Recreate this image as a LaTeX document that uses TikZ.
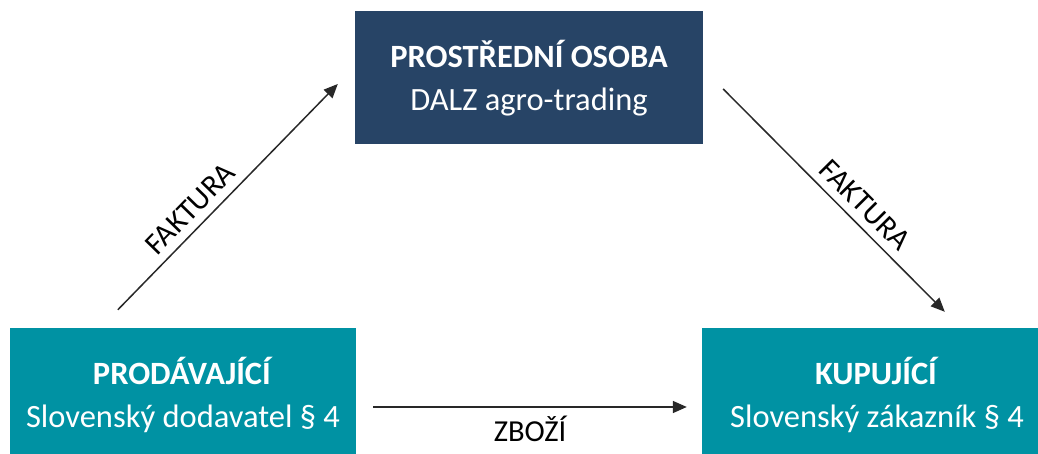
\documentclass[tikz,border=0pt]{standalone}
\usepackage{fontspec}
\setmainfont{Carlito}
\usepackage{xcolor}
\usetikzlibrary{arrows.meta}
\definecolor{navy}{RGB}{39,68,102}
\definecolor{teal}{RGB}{0,146,163}
\definecolor{arrowgray}{RGB}{40,40,40}

\begin{document}
\begin{tikzpicture}[
                x=1pt, y=1pt,
                party/.style={fill=teal, text=white, align=center, minimum width=346pt, minimum height=134pt, inner sep=0pt,
                    font=\fontsize{32.5}{42.5}\selectfont},
                middle/.style={party, fill=navy, minimum width=348pt, minimum height=133pt},
                flow/.style={draw=arrowgray, line width=1.5pt, -{Triangle[length=14pt,width=12pt]}},
                tag/.style={font=\fontsize{30.5}{33}\selectfont, inner sep=0pt},
                >=Stealth
            ]

                \useasboundingbox (0,0) rectangle (1038,454);

                \node[middle] (osoba) at (529,376) {\textbf{PROSTŘEDNÍ OSOBA}\\DALZ agro-trading};
                \node[party] (prodavajici) at (183,59) {\textbf{PRODÁVAJÍCÍ}\\Slovenský dodavatel § 4};
                \node[party, minimum width=350pt] (kupujici) at (877,59) {\textbf{KUPUJÍCÍ}\\Slovenský zákazník § 4};

                \draw[flow] ([shift={(108,18)}]prodavajici.north west) -- node[tag, pos=0.39, sloped, above=8pt] {FAKTURA} ([shift={(-17,-6)}]osoba.west);
                \draw[flow] ([shift={(20,-11)}]osoba.east) -- node[tag, pos=0.58, sloped, above=8pt] {FAKTURA} ([shift={(243,16)}]kupujici.north west);
                \draw[flow] ([shift={(17,-12)}]prodavajici.east) -- node[tag, below=8pt] {ZBOŽÍ} ([shift={(-15,-12)}]kupujici.west);

            \end{tikzpicture}
\end{document}
